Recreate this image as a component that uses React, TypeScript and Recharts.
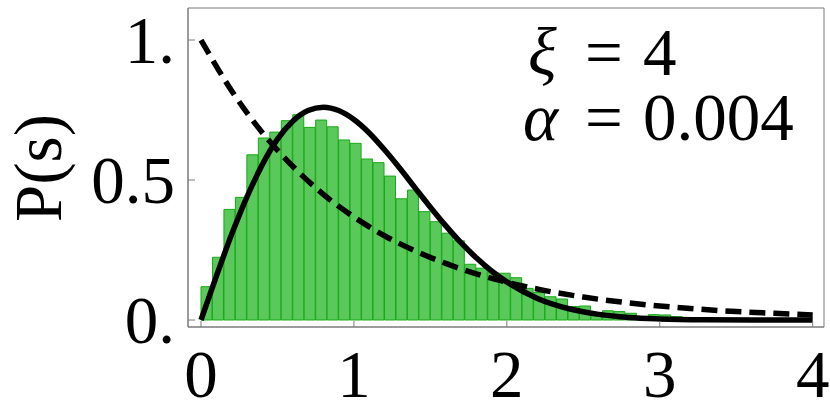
import React from 'react'
import { ComposedChart, Bar, Line, XAxis, YAxis, ReferenceArea } from 'recharts'

// histogram of level spacings, bin width 0.075, heights
const BIN_WIDTH = 0.075
const BIN_HEIGHTS = [
  0.119, 0.224, 0.395, 0.438, 0.59, 0.65, 0.671, 0.712, 0.733, 0.688, 0.714, 0.69, 0.643, 0.631,
  0.575, 0.562, 0.514, 0.433, 0.464, 0.387, 0.351, 0.31, 0.283, 0.199, 0.185, 0.169, 0.167, 0.151,
  0.113, 0.098, 0.083, 0.075, 0.048, 0.05, 0.025, 0.033, 0.03, 0.024, 0.012, 0.019, 0.018, 0.012,
]

// solid curve (Wigner-like)
const WIGNER_S = [0, 0.1, 0.2, 0.3, 0.4, 0.5, 0.6, 0.7, 0.8, 0.9, 1.0, 1.1, 1.2, 1.3, 1.4, 1.5, 1.6, 1.7, 1.8, 1.9, 2.0, 2.2, 2.4, 2.6, 2.8, 3.0, 3.3, 3.6, 4.0]
const WIGNER_P = [0, 0.156, 0.305, 0.439, 0.554, 0.646, 0.71, 0.748, 0.76, 0.748, 0.716, 0.668, 0.608, 0.542, 0.472, 0.403, 0.337, 0.276, 0.222, 0.175, 0.136, 0.077, 0.041, 0.02, 0.009, 0.004, 0.001, 0.0002, 0]

// dashed curve (Poisson)
const POISSON_S = [0, 0.2, 0.4, 0.6, 0.8, 1.0, 1.2, 1.4, 1.6, 1.8, 2.0, 2.25, 2.5, 2.75, 3.0, 3.25, 3.5, 3.75, 4.0]
const POISSON_P = [1.0, 0.819, 0.67, 0.549, 0.449, 0.368, 0.301, 0.247, 0.202, 0.165, 0.135, 0.105, 0.082, 0.064, 0.05, 0.039, 0.03, 0.024, 0.018]

const X_TICKS = [0, 1, 2, 3, 4]
const Y_TICKS = [0, 0.5, 1]
const Y_TICK_LABELS = ['0.', '0.5', '1.']
const X_DOMAIN = [-0.085, 4.074]
const Y_DOMAIN = [-0.025, 1.1143]

const bins = BIN_HEIGHTS.map((h, i) => ({ s: (i + 0.5) * BIN_WIDTH, h }))
const wigner = WIGNER_S.map((s, i) => ({ s, p: WIGNER_P[i] }))
const poisson = POISSON_S.map((s, i) => ({ s, p: POISSON_P[i] }))

const FONT = 'Liberation Serif, serif'
const FRAME = '#7a7a7a'
const FS = 67

function XTick({ x, y, payload }: any) {
  return (
    <g>
      <line x1={x} x2={x} y1={y} y2={y - 6} stroke={FRAME} strokeWidth={1} />
      <text x={x} y={y + 70} textAnchor="middle" fontSize={FS} fontFamily={FONT} fill="#000">
        {payload.value}
      </text>
    </g>
  )
}

function YTick({ x, y, payload }: any) {
  const label = Y_TICK_LABELS[Y_TICKS.indexOf(payload.value)]
  return (
    <g>
      <line x1={x} x2={x + 7} y1={y} y2={y} stroke={FRAME} strokeWidth={1} />
      <text x={x - 13} y={y + 23} textAnchor="end" fontSize={FS} fontFamily={FONT} fill="#000">
        {label}
      </text>
    </g>
  )
}

export default function App() {
  return (
    <div style={{ position: 'absolute', left: 0, top: 0, background: '#fff' }}>
      <ComposedChart
        width={830}
        height={413}
        data={bins}
        margin={{ top: 8, right: 6, left: 0, bottom: 0 }}
        barCategoryGap={0}
        barGap={0}
      >
        <XAxis
          type="number"
          domain={X_DOMAIN}
          allowDataOverflow
          ticks={X_TICKS}
          height={86}
          tickSize={0}
          tickMargin={0}
          tickLine={false}
          axisLine={{ stroke: FRAME }}
          tick={<XTick />}
          dataKey="s"
        />
        {/* separate hidden axis for the histogram so the bar band is one bin wide */}
        <XAxis xAxisId="bins" dataKey="s" type="number" domain={X_DOMAIN} allowDataOverflow hide />
        <YAxis
          type="number"
          domain={Y_DOMAIN}
          allowDataOverflow
          ticks={Y_TICKS}
          width={188}
          tickSize={0}
          tickMargin={0}
          tickLine={false}
          axisLine={{ stroke: FRAME }}
          tick={<YTick />}
        />
        <ReferenceArea
          x1={X_DOMAIN[0]}
          x2={X_DOMAIN[1]}
          y1={Y_DOMAIN[0]}
          y2={Y_DOMAIN[1]}
          ifOverflow="visible"
          fill="none"
          fillOpacity={0}
          stroke={FRAME}
          strokeWidth={1}
        />
        <Bar xAxisId="bins" dataKey="h" fill="#5AC85A" stroke="#17A917" strokeWidth={1} isAnimationActive={false} />
        <Line
          data={poisson}
          dataKey="p"
          type="monotone"
          stroke="#000"
          strokeWidth={5.5}
          strokeDasharray="16 8"
          dot={false}
          activeDot={false}
          isAnimationActive={false}
        />
        <Line
          data={wigner}
          dataKey="p"
          type="monotone"
          stroke="#000"
          strokeWidth={5.5}
          dot={false}
          activeDot={false}
          isAnimationActive={false}
        />
        <text x={61} y={168} transform="rotate(-90 61 168)" textAnchor="middle" fontSize={FS} fontFamily={FONT} fill="#000">
          P(s)
        </text>
        <text x={528} y={75} fontSize={FS} fontFamily={FONT} fill="#000">
          <tspan fontStyle="italic">ξ</tspan>
          <tspan x={585}>=</tspan>
          <tspan x={643}>4</tspan>
        </text>
        <text x={523} y={140} fontSize={FS} fontFamily={FONT} fill="#000">
          <tspan fontStyle="italic">α</tspan>
          <tspan x={585}>=</tspan>
          <tspan x={643}>0.004</tspan>
        </text>
      </ComposedChart>
    </div>
  )
}
